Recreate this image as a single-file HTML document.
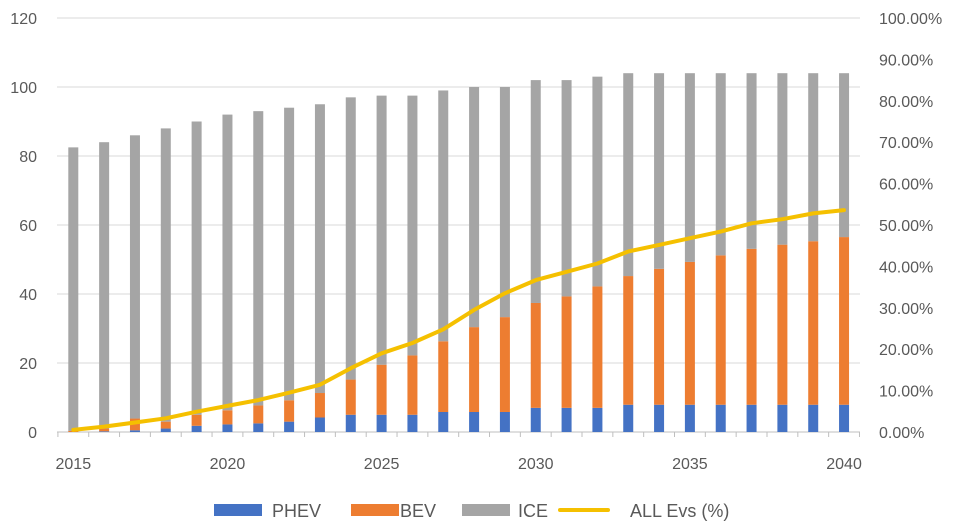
<!DOCTYPE html>
<html><head><meta charset="utf-8"><style>
body{margin:0;background:#fff;width:960px;height:526px;overflow:hidden}
svg text{font-family:"Liberation Sans",sans-serif;fill:#595959}
</style></head><body>
<svg id="chart" width="960" height="526" xmlns="http://www.w3.org/2000/svg"></svg>
<script>
const years=[2015,2016,2017,2018,2019,2020,2021,2022,2023,2024,2025,2026,2027,2028,2029,2030,2031,2032,2033,2034,2035,2036,2037,2038,2039,2040];
const phev=[0,0.2,0.5,1,1.8,2.2,2.5,3,4.2,5,5,5,5.8,5.8,5.8,7,7,7,7.9,7.9,7.9,7.9,7.9,7.9,7.9,7.9];
const bev=[0.3,0.8,3.4,2,3.2,4.1,5.2,6.2,7.1,10.2,14.5,17.2,20.5,24.6,27.5,30.4,32.3,35.2,37.3,39.4,41.4,43.3,45.2,46.4,47.4,48.6];
const ice=[82.2,83,82.1,85,85,85.7,85.3,84.8,83.7,81.8,78,75.3,72.7,69.6,66.7,64.6,62.7,60.8,58.8,56.7,54.7,52.8,50.9,49.7,48.7,47.5];
const evPct=[0.5,1.3,2.3,3.3,4.9,6.3,7.7,9.5,11.4,15.4,19,21.5,24.8,29.5,33.5,36.7,38.7,40.7,43.6,45.2,46.8,48.4,50.4,51.4,52.8,53.6];
const leftTicks=[0,20,40,60,80,100,120];
const rightTicks=[0,10,20,30,40,50,60,70,80,90,100];
const xLabels=[2015,2020,2025,2030,2035,2040];

const NS="http://www.w3.org/2000/svg";
const svg=document.getElementById('chart');
const y0=432, yTop=18;
const yL=v=>y0-v*(y0-yTop)/120;
const yR=p=>y0-p*(y0-yTop)/100;
const x=yr=>73.3+(yr-2015)*30.83;
function el(tag,attrs,parent){const e=document.createElementNS(NS,tag);for(const k in attrs)e.setAttribute(k,attrs[k]);(parent||svg).appendChild(e);return e;}

leftTicks.forEach(t=>{
  if(t>0){const g=el('line',{x1:57,x2:860,y1:yL(t),y2:yL(t),stroke:'#d9d9d9','stroke-width':1});
  
  }
  const tx=el('text',{x:37,y:yL(t)+6,'text-anchor':'end','font-size':16});
  tx.textContent=t;
  
  
});
rightTicks.forEach(t=>{
  const tx=el('text',{x:879,y:yR(t)+6,'font-size':16});
  tx.textContent=t.toFixed(2)+'%';
  
  
});
const ax=el('line',{x1:57,x2:860,y1:y0,y2:y0,stroke:'#bfbfbf','stroke-width':1});


for(let i=0;i<=26;i++){const xx=57.9+i*30.83;const tk=el('line',{x1:xx,x2:xx,y1:y0,y2:y0+5,stroke:'#bfbfbf'});

}
xLabels.forEach(l=>{
  const tx=el('text',{x:x(l),y:469,'text-anchor':'middle','font-size':16});
  tx.textContent=l;
  
  
});
const bw=10;
years.forEach((yr,i)=>{
  const segs=[[phev[i],'#4472c4','phev'],[bev[i],'#ed7d31','bev'],[ice[i],'#a5a5a5','ice']];
  let base=0;
  segs.forEach(([v,c,n])=>{
    const r=el('rect',{x:x(yr)-bw/2,y:yL(base+v),width:bw,height:Math.max(0,yL(base)-yL(base+v)),fill:c});
    
    
    base+=v;
  });
});
const pts=years.map((yr,i)=>x(yr).toFixed(1)+','+yR(evPct[i]).toFixed(1)).join(' ');
const pl=el('polyline',{points:pts,fill:'none',stroke:'#f5c000','stroke-width':4,'stroke-linejoin':'round','stroke-linecap':'round'});



const leg=[['PHEV','#4472c4',214,272,'rect'],['BEV','#ed7d31',351,400,'rect'],['ICE','#a5a5a5',462,518,'rect'],['ALL Evs (%)','#f5c000',560,630,'line']];
leg.forEach(([t,c,sx,tx,k])=>{
  let s;
  if(k==='rect')s=el('rect',{x:sx,y:504,width:48,height:12,fill:c});
  else s=el('line',{x1:sx,x2:sx+48,y1:510,y2:510,stroke:c,'stroke-width':4,'stroke-linecap':'round'});
  
  
  const tt=el('text',{x:tx,y:517,'font-size':18});
  tt.textContent=t;
  
  
});
</script>
</body></html>
